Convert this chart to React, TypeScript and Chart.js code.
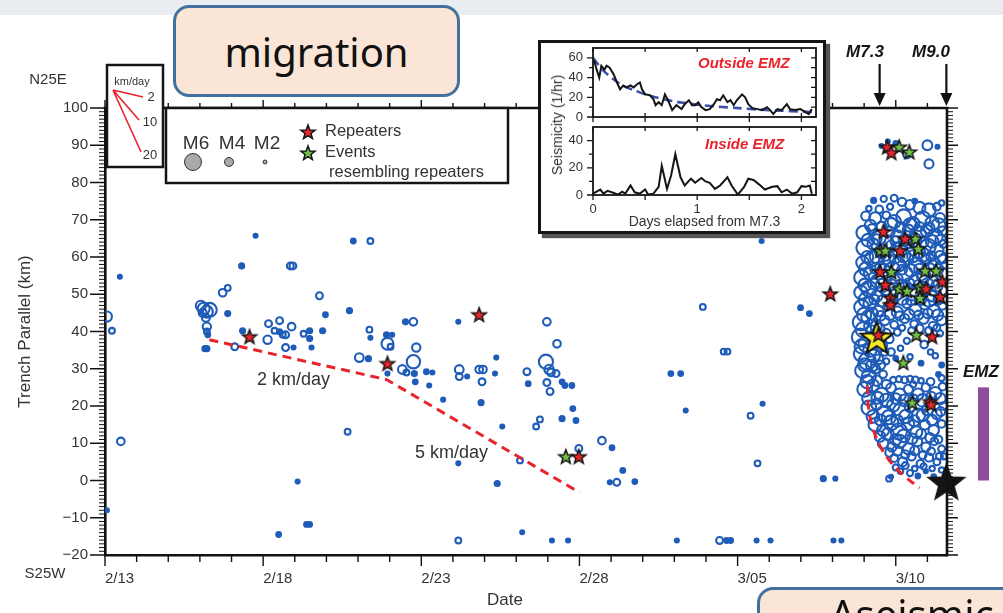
import React, { useEffect, useRef } from 'react';
import { Chart, registerables } from 'chart.js';

Chart.register(...registerables);

const W = 1003;
const H = 613;
const FONT = '"Liberation Sans", Arial, Helvetica, sans-serif';
const INK = '#333333';
const BLUE = '#1f5cb8';
const RED = '#e8232b';

// ---------- main panel: x = days since 2/13, y = km along trench ----------
const xMaxDay = 26.62;
const dateLabelDays = [0, 5, 10, 15, 20, 25];
const dateLabels = ['2/13', '2/18', '2/23', '2/28', '3/05', '3/10'];
const kmTicks = [-20, -10, 0, 10, 20, 30, 40, 50, 60, 70, 80, 90, 100];
const m73Day = 24.49;
const m90Day = 26.6;

// [day, km, magnitude]
const foreshockEvents: number[][] = [
  [0.06, 44.0, 3.7], [0.22, 40.2, 2.5], [0.47, 54.7, 2.0], [0.06, -8.0, 2.0], [0.5, 10.5, 3.0],
  [3.03, 46.9, 3.7], [3.12, 46.1, 4.2], [3.22, 45.3, 4.2], [3.31, 45.8, 4.8], [3.09, 45.0, 3.1], [3.19, 43.7, 3.1],
  [3.22, 41.3, 3.2], [3.22, 40.0, 2.5], [3.25, 39.1, 2.2], [3.16, 35.4, 2.3], [3.22, 35.4, 2.3],
  [3.72, 50.4, 3.0], [3.88, 51.7, 2.5], [3.88, 44.8, 2.3], [4.32, 57.6, 2.3], [4.76, 65.7, 2.0],
  [4.35, 40.2, 2.3], [4.1, 35.9, 2.8], [5.14, 37.8, 3.2], [5.17, 42.1, 2.8],
  [5.36, 40.2, 2.5], [5.52, 42.9, 2.8], [5.52, 39.9, 2.3], [5.62, 39.1, 2.5], [5.71, 39.1, 2.8],
  [5.86, 57.6, 2.8], [5.94, 57.6, 2.8], [5.9, 41.3, 3.0], [5.71, 35.7, 2.8], [5.96, 35.7, 2.0],
  [6.28, 39.4, 2.5], [6.47, 40.2, 2.3], [6.47, 38.1, 2.3], [6.53, 35.7, 2.0], [6.78, 49.6, 2.8],
  [6.88, 40.2, 2.3], [6.97, 44.5, 2.2], [7.73, 45.6, 2.3], [7.85, 64.3, 2.2], [8.39, 64.3, 2.5],
  [8.04, 33.0, 3.3], [8.33, 32.7, 2.3], [8.36, 40.5, 2.5], [8.39, 38.3, 2.0], [8.9, 39.1, 2.3],
  [9.08, 39.1, 2.0], [8.93, 36.7, 4.2], [9.03, 35.9, 2.5], [8.93, 28.7, 2.0], [9.5, 42.6, 2.3],
  [9.75, 42.6, 3.0], [9.4, 29.8, 3.3], [9.53, 29.0, 2.5], [9.75, 31.9, 4.6], [9.84, 35.7, 3.2],
  [9.78, 28.7, 2.3], [9.81, 26.5, 2.2], [10.16, 29.2, 2.2], [10.35, 29.0, 2.0], [10.25, 25.5, 2.0],
  [10.69, 21.7, 2.0], [11.17, 42.6, 2.0], [11.2, 29.8, 3.3], [11.2, 27.9, 2.8], [11.45, 27.9, 2.0],
  [11.83, 29.8, 3.0], [11.95, 29.8, 3.0], [11.92, 26.5, 2.8], [11.89, 20.9, 2.3], [12.37, 33.0, 2.0],
  [12.33, 28.7, 2.0], [7.67, 13.1, 2.5], [5.49, -14.5, 2.2], [6.09, -0.3, 2.0], [6.37, -11.8, 2.2],
  [6.47, -11.8, 2.2], [11.17, 4.6, 2.0], [11.17, -16.1, 2.5], [12.4, -0.8, 2.3], [12.56, 14.5, 2.0],
  [13.12, 5.4, 2.5], [13.19, -13.9, 2.0], [13.75, 16.4, 2.5], [13.63, 14.5, 2.5], [14.45, 16.6, 2.3],
  [14.79, 19.3, 2.2], [14.89, 16.1, 2.2], [14.13, -16.1, 2.0], [14.64, -16.1, 2.0], [14.98, 8.6, 2.8],
  [15.71, 10.7, 3.0], [16.03, 8.8, 2.2], [16.37, 2.7, 2.2], [15.96, -0.5, 2.0], [16.18, -0.5, 2.8],
  [16.75, -0.3, 2.2], [13.97, 42.6, 3.0], [14.29, 36.7, 3.0], [13.34, 29.2, 2.8], [13.38, 26.0, 2.2],
  [13.94, 31.9, 4.8], [14.04, 29.8, 3.5], [14.1, 29.0, 3.0], [14.26, 28.7, 2.8], [13.97, 26.3, 2.8],
  [14.07, 23.9, 2.8], [14.45, 26.5, 2.2], [14.54, 25.5, 2.2], [14.76, 25.5, 2.2], [17.89, 28.7, 2.2],
  [18.2, 28.7, 2.2], [18.9, 46.6, 2.5], [18.36, 18.8, 2.0], [18.08, -16.1, 2.0], [19.43, -16.1, 2.8],
  [19.65, -16.1, 2.2], [19.78, -16.1, 2.2], [19.56, 34.6, 2.5], [19.68, 34.6, 2.5], [20.6, -16.1, 2.0],
  [21.04, -16.1, 2.0], [20.41, 17.4, 2.5], [20.79, 20.6, 2.0], [20.76, 64.3, 2.0], [20.63, 4.6, 2.5],
  [21.99, 46.4, 2.2], [22.27, 44.8, 2.2], [22.71, 0.5, 2.3], [23.09, 0.5, 2.0], [23.03, -16.1, 2.0],
  [23.28, -16.1, 2.0], [24.79, 0.5, 2.5],
];

// events after the M7.3 (dense cluster)
const aftershockEvents: number[][] = [
  [24.55, 89.8, 2.0], [25.0, 90.5, 2.2], [25.35, 87.5, 3.0], [26.0, 90.0, 3.6], [26.32, 89.6, 2.0], [26.05, 85.0, 3.4], [24.75, 91.0, 2.0],
  [24.3, 75.2, 2.3], [24.62, 75.6, 2.6], [24.95, 75.8, 2.8], [25.2, 74.8, 3.2], [25.45, 74.0, 3.6], [25.75, 73.2, 4.2], [26.05, 72.6, 4.6], [26.3, 73.5, 3.0],
  [24.15, 73.0, 2.4], [24.48, 72.8, 3.0], [24.82, 73.5, 2.6], [25.6, 75.0, 2.2], [26.45, 74.5, 2.4],
  [24.05, 71.0, 3.4], [24.35, 70.4, 4.2], [24.7, 71.2, 3.0], [24.95, 69.5, 4.6], [25.25, 70.8, 5.0], [25.55, 69.0, 4.4], [25.85, 70.2, 5.2], [26.15, 69.0, 4.8], [26.4, 70.5, 3.6],
  [24.2, 68.5, 4.0], [24.55, 68.2, 3.6], [24.85, 68.8, 4.4], [25.15, 68.0, 3.8], [25.45, 68.6, 4.6], [25.75, 68.2, 3.4], [26.05, 67.8, 4.0], [26.35, 68.5, 4.8],
  [23.98, 66.5, 4.8], [24.25, 67.5, 3.6], [24.45, 65.2, 5.0], [24.8, 66.8, 3.8], [25.05, 65.5, 4.4], [25.4, 67.2, 4.0], [25.7, 66.0, 5.4], [25.98, 67.0, 4.2], [26.25, 65.5, 5.0], [26.48, 67.0, 3.4],
  [24.12, 64.5, 4.4], [24.4, 64.8, 3.6], [24.7, 64.0, 4.8], [25.0, 64.2, 3.8], [25.28, 64.5, 4.2], [25.58, 64.6, 4.8], [25.88, 64.0, 3.6], [26.15, 64.2, 4.4], [26.42, 64.6, 3.8],
  [24.0, 62.5, 5.2], [24.28, 63.5, 4.0], [24.55, 61.5, 4.6], [24.85, 63.2, 3.4], [25.12, 62.0, 5.0], [25.42, 63.8, 3.8], [25.75, 61.2, 4.0], [26.02, 62.8, 5.2], [26.3, 61.8, 4.6], [26.5, 63.5, 3.0],
  [24.1, 60.0, 4.2], [24.4, 60.2, 4.8], [24.68, 60.4, 3.8], [24.98, 60.0, 4.4], [25.25, 60.4, 4.6], [25.55, 60.2, 4.2], [25.85, 60.6, 4.8], [26.12, 60.2, 3.6], [26.4, 60.0, 4.2],
  [23.95, 58.5, 4.4], [24.25, 59.5, 5.0], [24.5, 57.5, 3.6], [24.8, 59.0, 4.2], [25.08, 58.0, 4.8], [25.38, 59.5, 4.0], [25.65, 57.8, 5.2], [25.95, 59.2, 3.8], [26.22, 58.0, 4.4], [26.48, 59.5, 3.4],
  [24.05, 56.8, 4.6], [24.35, 57.0, 3.8], [24.62, 56.5, 4.4], [24.9, 56.8, 4.8], [25.2, 56.6, 3.6], [25.48, 56.4, 4.4], [25.75, 56.8, 3.8], [26.05, 56.5, 4.8], [26.35, 56.8, 3.6],
  [23.92, 54.5, 5.0], [24.18, 55.5, 4.2], [24.42, 53.5, 4.6], [24.75, 55.0, 3.6], [25.02, 54.0, 4.4], [25.3, 55.5, 5.0], [25.58, 53.8, 3.8], [25.88, 55.0, 4.6], [26.18, 53.5, 4.0], [26.45, 55.5, 4.4],
  [24.02, 52.5, 4.4], [24.3, 52.8, 4.0], [24.58, 52.4, 4.6], [24.88, 52.6, 3.8], [25.15, 52.2, 4.4], [25.42, 52.8, 4.0], [25.72, 52.5, 3.6], [26.0, 52.6, 4.4], [26.3, 52.2, 4.0],
  [23.9, 50.5, 4.6], [24.15, 51.5, 5.2], [24.4, 49.5, 4.0], [24.7, 51.0, 3.4], [25.0, 49.8, 4.2], [25.28, 52.0, 3.6], [25.55, 50.2, 4.8], [25.85, 51.0, 4.0], [26.15, 49.5, 3.8], [26.45, 51.5, 4.4],
  [24.05, 48.5, 4.8], [24.32, 48.6, 3.6], [24.6, 48.2, 4.2], [24.9, 48.5, 3.8], [25.2, 48.8, 4.4], [25.48, 48.4, 3.6], [25.78, 48.6, 4.0], [26.05, 48.3, 4.4], [26.35, 48.6, 3.6],
  [23.92, 46.5, 5.0], [24.18, 47.5, 4.4], [24.45, 45.5, 3.8], [24.75, 46.8, 3.2], [25.05, 45.2, 4.0], [25.35, 47.5, 3.4], [25.62, 45.8, 4.2], [25.92, 47.2, 3.6], [26.2, 45.5, 4.4], [26.48, 47.0, 3.2],
  [24.0, 44.5, 4.8], [24.25, 44.8, 4.2], [24.52, 44.2, 3.6], [24.82, 44.6, 4.0], [25.12, 44.2, 3.4], [25.42, 44.6, 3.8], [25.72, 44.4, 3.4], [26.02, 44.8, 3.6], [26.32, 44.4, 4.0],
  [23.9, 42.5, 5.4], [24.12, 43.8, 4.6], [24.38, 41.5, 4.0], [24.65, 43.0, 3.6], [24.95, 41.8, 3.0], [25.28, 43.5, 3.4], [25.58, 42.0, 3.0], [25.88, 43.5, 3.8], [26.18, 41.5, 3.2], [26.45, 43.0, 3.6],
  [23.98, 40.5, 5.2], [24.2, 41.5, 4.4], [24.48, 40.8, 3.8], [24.7, 39.5, 3.4], [25.2, 41.0, 2.6], [25.5, 40.2, 2.8], [25.75, 40.8, 3.2], [26.05, 40.2, 3.0], [26.3, 41.0, 2.8],
  [23.88, 38.5, 5.6], [24.05, 36.5, 5.0], [24.25, 40.0, 4.2], [24.8, 38.0, 3.2], [25.05, 39.8, 2.8], [25.35, 37.5, 2.6], [25.9, 36.5, 3.0], [26.4, 39.5, 2.6], [24.55, 36.2, 4.0],
  [23.92, 36.0, 4.8], [24.18, 35.0, 4.6], [24.4, 37.5, 3.8], [24.65, 34.5, 3.0], [25.15, 35.5, 2.4], [26.1, 34.5, 2.4],
  [23.92, 34.0, 5.2], [24.1, 32.0, 5.6], [24.3, 33.5, 4.4], [24.52, 31.0, 3.4], [24.85, 34.5, 3.0], [25.45, 33.2, 2.4], [25.8, 31.5, 2.2], [26.25, 33.5, 2.4], [26.45, 31.0, 2.2],
  [24.02, 31.0, 4.6], [24.25, 30.8, 4.2], [24.45, 32.5, 3.6], [24.7, 32.0, 2.6], [25.0, 32.8, 2.2],
  [23.95, 29.5, 5.0], [24.15, 28.0, 4.8], [24.35, 30.0, 3.6], [24.6, 28.5, 3.0], [24.92, 27.0, 2.6], [25.1, 27.2, 2.6], [25.28, 27.0, 2.8], [25.45, 27.3, 2.6], [25.62, 27.0, 2.8], [25.8, 26.8, 2.4], [26.35, 28.5, 2.2],
  [24.1, 26.5, 4.6], [24.4, 26.8, 3.8], [24.7, 25.8, 3.4], [25.55, 25.8, 2.6], [26.1, 26.5, 3.0], [26.45, 27.5, 2.6],
  [24.02, 24.5, 5.0], [24.28, 25.5, 4.2], [24.55, 23.0, 4.8], [24.85, 24.8, 3.6], [25.12, 23.0, 4.4], [25.4, 24.5, 3.4], [25.7, 23.2, 4.0], [25.95, 25.0, 3.2], [26.25, 23.5, 4.2], [26.48, 25.2, 3.0],
  [24.15, 22.0, 4.6], [24.42, 22.2, 4.2], [24.7, 21.5, 4.6], [25.0, 22.0, 3.8], [25.28, 21.5, 4.2], [25.55, 21.8, 3.6], [25.85, 21.5, 4.4], [26.12, 22.5, 3.6], [26.4, 22.0, 4.0],
  [24.15, 19.5, 5.0], [24.4, 20.5, 4.0], [24.65, 18.0, 5.2], [24.92, 20.2, 4.4], [25.18, 18.5, 5.6], [25.45, 19.8, 3.8], [25.72, 17.5, 4.6], [26.0, 19.0, 4.0], [26.3, 17.8, 3.6], [26.5, 20.0, 3.0],
  [24.28, 17.2, 4.4], [24.52, 16.2, 4.0], [24.78, 17.0, 4.8], [25.05, 16.0, 4.2], [25.32, 17.2, 4.6], [25.58, 16.0, 4.0], [25.85, 17.5, 4.2], [26.15, 16.2, 3.8], [26.42, 18.5, 3.4],
  [24.35, 15.0, 4.6], [24.6, 13.5, 4.2], [24.85, 15.5, 5.0], [25.1, 13.2, 5.4], [25.38, 15.2, 4.4], [25.65, 13.0, 4.2], [25.92, 15.0, 3.6], [26.2, 13.5, 3.8], [26.45, 15.2, 3.0],
  [24.5, 11.8, 3.8], [24.75, 12.5, 4.2], [25.0, 11.0, 4.0], [25.25, 12.0, 4.4], [25.52, 11.2, 3.8], [25.8, 12.5, 3.6], [26.08, 11.5, 3.4], [26.35, 11.0, 3.0],
  [24.6, 10.0, 3.8], [24.88, 9.0, 3.4], [25.12, 10.5, 4.6], [25.4, 8.5, 4.0], [25.68, 10.5, 3.6], [25.95, 9.0, 3.4], [26.22, 10.5, 3.0], [26.45, 8.5, 2.8],
  [24.8, 7.5, 3.2], [25.05, 8.0, 3.6], [25.3, 7.0, 3.2], [25.6, 8.0, 3.4], [25.85, 6.8, 3.0], [26.12, 7.8, 3.0], [26.38, 6.5, 2.8],
  [24.95, 6.0, 3.0], [25.22, 5.0, 3.4], [25.5, 6.5, 3.2], [25.78, 4.5, 3.0], [26.05, 6.2, 3.2], [26.3, 5.0, 2.8], [26.52, 6.5, 2.6],
  [25.0, 3.5, 2.6], [25.3, 4.0, 2.8], [25.6, 3.2, 2.4], [25.88, 3.8, 2.6], [26.15, 3.2, 2.4],
  [25.15, 2.5, 2.4], [25.45, 2.0, 2.6], [25.7, 1.2, 2.2], [25.95, 2.5, 2.0], [26.2, 1.0, 2.2], [26.45, 2.8, 2.4], [24.85, 1.0, 2.0],
  [26.6, -0.5, 2.6],
];

// [day, km]
const repeaterEvents: number[][] = [
  [4.57, 38.6], [8.93, 31.4], [11.83, 44.5], [14.98, 6.4], [22.93, 50.1],
  [24.73, 89.5], [24.86, 88.0], [24.61, 66.8], [25.3, 64.9], [25.14, 61.7], [24.51, 56.0], [24.67, 52.5],
  [25.96, 51.5], [26.4, 49.3], [24.83, 49.0], [24.83, 47.2], [26.47, 53.4], [24.45, 39.1], [26.15, 38.6],
  [26.09, 21.2], [26.12, 20.4],
];
const resemblingEvents: number[][] = [
  [14.57, 6.4],
  [25.11, 89.5], [25.43, 88.2], [25.62, 64.9], [24.51, 61.7], [24.67, 61.7], [25.71, 62.2], [24.86, 56.0],
  [25.93, 56.3], [26.28, 56.3], [25.11, 51.5], [25.36, 50.9], [25.77, 52.0], [25.77, 49.0], [25.65, 39.1],
  [25.24, 31.6], [25.52, 20.9],
];
const m73Event = [24.4, 38.3];
const m90Event = [26.6, -0.5];

const migrationFront: number[][] = [[3.3, 37.8], [8.9, 27.1], [15.0, -3.2]];
const emzFront: number[][] = [[24.1, 25.5], [24.14, 19.5], [24.28, 14.0], [24.52, 9.0], [24.88, 4.5], [25.3, 1.0], [25.75, -2.0]];

// ---------- inset: seismicity rate vs days after M7.3 ----------
const outsideDays = [0.01, 0.035, 0.06, 0.08, 0.11, 0.13, 0.16, 0.2, 0.23, 0.26, 0.29, 0.32, 0.36, 0.39, 0.42, 0.45, 0.47, 0.5, 0.55, 0.58, 0.6, 0.63, 0.66, 0.69, 0.72, 0.76, 0.8, 0.85, 0.88, 0.92, 0.95, 0.98, 1.01, 1.04, 1.08, 1.12, 1.16, 1.19, 1.22, 1.25, 1.29, 1.32, 1.35, 1.38, 1.43, 1.46, 1.49, 1.53, 1.58, 1.62, 1.67, 1.7, 1.73, 1.77, 1.81, 1.86, 1.89, 1.94, 1.99, 2.04, 2.07, 2.1];
const outsideRate = [58, 48, 40, 52, 48, 52, 50, 43, 35, 28, 32, 30, 32, 30, 33, 35, 28, 23, 22, 18, 12, 15, 12, 23, 17, 7, 12, 8, 13, 17, 12, 12, 15, 10, 7, 8, 13, 18, 17, 22, 15, 17, 12, 17, 23, 20, 13, 9, 8, 7, 10, 7, 3, 8, 7, 13, 8, 7, 8, 5, 3, 8];
const fitDays = [0, 0.1, 0.2, 0.3, 0.4, 0.5, 0.6, 0.7, 0.8, 0.9, 1.0, 1.2, 1.4, 1.6, 1.8, 2.0, 2.12];
const fitRate = [60, 47, 38, 31, 27, 23, 20, 17.5, 15.5, 14, 12.5, 10.5, 9, 7.5, 6.5, 5.5, 5];
const insideDays = [0.0, 0.07, 0.1, 0.14, 0.2, 0.24, 0.28, 0.31, 0.36, 0.4, 0.45, 0.5, 0.53, 0.58, 0.63, 0.66, 0.71, 0.75, 0.79, 0.84, 0.88, 0.94, 0.98, 1.04, 1.08, 1.12, 1.17, 1.22, 1.29, 1.33, 1.39, 1.45, 1.49, 1.54, 1.59, 1.65, 1.72, 1.77, 1.81, 1.86, 1.91, 1.96, 2.0, 2.04, 2.08, 2.1];
const insideRate = [1, 4, 1, 3, 1.5, 0.3, 2.5, 1, 7, 2, 1, 4, 0.3, 1, 6, 21.5, 4.5, 14.5, 30, 13, 7, 12, 9, 12.5, 10, 9, 4.5, 7, 13, 7, 0.3, 6, 12, 11, 8, 4, 6, 6.5, 2, 4, 1, 2, 6.5, 6, 7, 1];
const insetXMax = 2.14;
const outsideTicks = [0, 20, 40, 60];
const insideTicks = [0, 20, 40];
const insetDayTicks = [0, 1, 2];

function magRadius(m: number) {
  return 2 + (m - 2) * 1.8;
}

function starCanvas(R: number, fill: string, lw: number, stroke = '#151515') {
  const size = Math.ceil(2 * R + 2 * lw + 4);
  const c = document.createElement('canvas');
  c.width = size;
  c.height = size;
  const g = c.getContext('2d')!;
  const cx = size / 2;
  const cy = size / 2 + R * 0.06;
  g.beginPath();
  for (let i = 0; i < 10; i++) {
    const r = i % 2 === 0 ? R : R * 0.42;
    const a = -Math.PI / 2 + (i * Math.PI) / 5;
    const px = cx + r * Math.cos(a);
    const py = cy + r * Math.sin(a);
    if (i === 0) g.moveTo(px, py);
    else g.lineTo(px, py);
  }
  g.closePath();
  g.fillStyle = fill;
  g.fill();
  g.lineWidth = lw;
  g.lineJoin = 'miter';
  g.strokeStyle = stroke;
  g.stroke();
  return c;
}

function arrowDown(ctx: CanvasRenderingContext2D, x: number, y0: number, y1: number) {
  ctx.beginPath();
  ctx.moveTo(x, y0);
  ctx.lineTo(x, y1 - 10);
  ctx.lineWidth = 2.2;
  ctx.strokeStyle = '#111';
  ctx.stroke();
  ctx.beginPath();
  ctx.moveTo(x - 6, y1 - 13);
  ctx.lineTo(x + 6, y1 - 13);
  ctx.lineTo(x, y1);
  ctx.closePath();
  ctx.fillStyle = '#111';
  ctx.fill();
}

export default function App() {
  const mainRef = useRef<HTMLCanvasElement>(null);
  const topRef = useRef<HTMLCanvasElement>(null);
  const botRef = useRef<HTMLCanvasElement>(null);

  useEffect(() => {
    const charts: Chart[] = [];
    const redStar = starCanvas(7.5, '#e8262c', 1.5);
    const greenStar = starCanvas(7.5, '#72bf4a', 1.5);
    const yellowStar = starCanvas(17, '#f4ec2a', 2);
    const blackStar = starCanvas(19, '#151515', 1.5);

    const mainDecor = {
      id: 'mainDecor',
      afterDraw(chart: any) {
        const ctx: CanvasRenderingContext2D = chart.ctx;
        const xs = chart.scales.x;
        const ys = chart.scales.y;
        const { left, right, top, bottom } = chart.chartArea;
        ctx.save();
        ctx.strokeStyle = '#111';
        ctx.lineWidth = 2.6;
        ctx.beginPath();
        ctx.moveTo(left - 1.3, top);
        ctx.lineTo(right + 1.3, top);
        ctx.moveTo(right, top);
        ctx.lineTo(right, bottom + 1.3);
        ctx.stroke();
        for (let v = -20; v <= 100; v++) {
          const y = ys.getPixelForValue(v);
          const major = v % 10 === 0;
          ctx.lineWidth = major ? 1.6 : 1;
          ctx.beginPath();
          ctx.moveTo(left - (major ? 15 : 6), y);
          ctx.lineTo(left, y);
          ctx.moveTo(right, y);
          ctx.lineTo(right + (major ? 11 : 6), y);
          ctx.stroke();
        }
        for (let d = 0; d <= 26; d++) {
          const x = xs.getPixelForValue(d);
          const major = d % 5 === 0;
          ctx.lineWidth = 1.4;
          ctx.beginPath();
          ctx.moveTo(x, bottom);
          ctx.lineTo(x, bottom + (major ? 11 : 7));
          ctx.moveTo(x, top);
          ctx.lineTo(x, top - (major ? 8 : 5));
          ctx.stroke();
        }
        ctx.fillStyle = INK;
        ctx.textAlign = 'center';
        ctx.textBaseline = 'middle';
        ctx.font = `15px ${FONT}`;
        ctx.fillText('N25E', 48, 80);
        ctx.fillText('S25W', 45, 574);
        ctx.font = `17px ${FONT}`;
        ctx.fillText('Date', 505, 600);
        ctx.font = `18px ${FONT}`;
        ctx.textAlign = 'left';
        ctx.fillText('2 km/day', 257, 380);
        ctx.fillText('5 km/day', 415, 453);
        ctx.font = `bold italic 17px ${FONT}`;
        ctx.textAlign = 'center';
        ctx.fillStyle = '#151515';
        ctx.fillText('M7.3', 865, 52);
        ctx.fillText('M9.0', 931, 52);
        arrowDown(ctx, xs.getPixelForValue(m73Day), 64, top - 2);
        arrowDown(ctx, xs.getPixelForValue(m90Day), 64, top - 2);
        ctx.textAlign = 'left';
        ctx.fillStyle = '#151515';
        ctx.fillText('EMZ', 963, 372);
        ctx.fillStyle = '#8f4c9f';
        const yb0 = ys.getPixelForValue(25);
        const yb1 = ys.getPixelForValue(0);
        ctx.fillRect(978, yb0, 11, yb1 - yb0);
        // km/day legend
        ctx.fillStyle = '#fff';
        ctx.fillRect(107, 65, 56, 102);
        ctx.lineWidth = 2.5;
        ctx.strokeStyle = '#151515';
        ctx.strokeRect(107, 65, 56, 102);
        ctx.strokeStyle = RED;
        ctx.lineWidth = 1.6;
        ctx.beginPath();
        ctx.moveTo(113, 90); ctx.lineTo(143, 97);
        ctx.moveTo(113, 90); ctx.lineTo(139, 120);
        ctx.moveTo(113, 90); ctx.lineTo(141, 152);
        ctx.stroke();
        ctx.fillStyle = INK;
        ctx.textAlign = 'center';
        ctx.font = `11px ${FONT}`;
        ctx.fillText('km/day', 132, 82);
        ctx.font = `13px ${FONT}`;
        ctx.fillText('2', 151, 97);
        ctx.fillText('10', 150, 122);
        ctx.fillText('20', 150, 155);
        // magnitude / star legend
        ctx.fillStyle = '#fff';
        ctx.fillRect(166, 108, 342, 75);
        ctx.lineWidth = 2.5;
        ctx.strokeStyle = '#151515';
        ctx.strokeRect(166, 108, 342, 75);
        ctx.fillStyle = INK;
        ctx.font = `19px ${FONT}`;
        ctx.fillText('M6', 196, 144);
        ctx.fillText('M4', 232, 144);
        ctx.fillText('M2', 267, 144);
        const legendCircles: number[][] = [[193, 8.5], [229, 4.5], [265, 2]];
        for (const [cx, r] of legendCircles) {
          ctx.beginPath();
          ctx.arc(cx, 162, r, 0, Math.PI * 2);
          ctx.fillStyle = '#a9a9a9';
          ctx.fill();
          ctx.lineWidth = 1;
          ctx.strokeStyle = '#333';
          ctx.stroke();
        }
        ctx.drawImage(redStar, 308 - redStar.width / 2, 132 - redStar.height / 2);
        ctx.drawImage(greenStar, 308 - greenStar.width / 2, 153 - greenStar.height / 2);
        ctx.fillStyle = INK;
        ctx.textAlign = 'left';
        ctx.font = `16.5px ${FONT}`;
        ctx.fillText('Repeaters', 325, 131);
        ctx.fillText('Events', 325, 152);
        ctx.fillText('resembling repeaters', 329, 172);
        ctx.restore();
      },
    };

    const toPts = (arr: number[][]) => arr.map(([x, y, m]) => ({ x, y, m }));

    const main = new Chart(mainRef.current!, {
      type: 'scatter',
      data: {
        datasets: [
          { data: toPts(repeaterEvents), pointStyle: redStar as any, pointRadius: 7, order: 0, clip: false as any },
          { data: toPts(resemblingEvents), pointStyle: greenStar as any, pointRadius: 7, order: 1, clip: false as any },
          { data: [{ x: m73Event[0], y: m73Event[1] }], pointStyle: yellowStar as any, pointRadius: 17, order: 2, clip: false as any },
          { data: [{ x: m90Event[0], y: m90Event[1] }], pointStyle: blackStar as any, pointRadius: 19, order: 3, clip: false as any },
          {
            data: toPts(migrationFront),
            showLine: true,
            borderColor: RED,
            borderWidth: 3,
            borderDash: [9, 6],
            pointRadius: 0,
            order: 4,
          },
          {
            data: toPts(emzFront),
            showLine: true,
            borderColor: RED,
            borderWidth: 3,
            borderDash: [9, 6],
            pointRadius: 0,
            tension: 0.4,
            order: 5,
          },
          {
            data: toPts(foreshockEvents.concat(aftershockEvents)),
            pointStyle: 'circle',
            pointRadius: (c: any) => magRadius(c.raw.m),
            backgroundColor: (c: any) => (c.raw.m <= 2.3 ? BLUE : 'rgba(0,0,0,0)'),
            borderColor: BLUE,
            borderWidth: 2.1,
            order: 6,
          },
        ] as any,
      },
      options: {
        animation: false,
        responsive: false,
        devicePixelRatio: 1,
        events: [],
        layout: { padding: { left: 0, right: 56, top: 108, bottom: 0 } },
        plugins: { legend: { display: false }, tooltip: { enabled: false } },
        scales: {
          x: {
            type: 'linear',
            min: 0,
            max: xMaxDay,
            grid: { display: false, drawTicks: false },
            border: { display: true, color: '#111', width: 2.6 },
            afterBuildTicks: (s: any) => {
              s.ticks = dateLabelDays.map((v) => ({ value: v }));
            },
            ticks: {
              autoSkip: false,
              maxRotation: 0,
              align: 'start',
              padding: 15,
              color: INK,
              font: { family: FONT, size: 15 },
              callback: (v: any) => {
                const i = dateLabelDays.indexOf(Number(v));
                return i >= 0 ? dateLabels[i] : '';
              },
            },
            afterFit: (s: any) => {
              s.height = 58;
            },
          },
          y: {
            type: 'linear',
            min: -20,
            max: 100,
            grid: { display: false, drawTicks: false },
            border: { display: true, color: '#111', width: 2.6 },
            afterBuildTicks: (s: any) => {
              s.ticks = kmTicks.map((v) => ({ value: v }));
            },
            ticks: {
              padding: 17,
              color: INK,
              font: { family: FONT, size: 15 },
              callback: (v: any) => (Number(v) < 0 ? `\u2212${-Number(v)}` : `${v}`),
            },
            title: {
              display: true,
              text: 'Trench Parallel (km)',
              color: INK,
              font: { family: FONT, size: 17 },
              padding: { top: 15, bottom: 0 },
            },
            afterFit: (s: any) => {
              s.width = 105;
            },
          },
        },
      } as any,
      plugins: [mainDecor],
    });
    charts.push(main);

    const insetFrame = (yAll: number[], bothBottom: boolean) => ({
      id: 'insetFrame',
      afterDraw(chart: any) {
        const ctx: CanvasRenderingContext2D = chart.ctx;
        const { left, right, top, bottom } = chart.chartArea;
        const xs = chart.scales.x;
        const ys = chart.scales.y;
        ctx.save();
        ctx.strokeStyle = '#151515';
        ctx.lineWidth = 1.8;
        ctx.strokeRect(left, top, right - left, bottom - top);
        ctx.lineWidth = 1.3;
        ctx.beginPath();
        for (const v of yAll) {
          const y = ys.getPixelForValue(v);
          const major = v % 20 === 0;
          ctx.moveTo(left - (major ? 6 : 4), y);
          ctx.lineTo(left, y);
          ctx.moveTo(right, y);
          ctx.lineTo(right - 5, y);
        }
        for (const d of [0, 0.5, 1, 1.5, 2]) {
          const x = xs.getPixelForValue(d);
          ctx.moveTo(x, bottom - (bothBottom ? 4 : 0));
          ctx.lineTo(x, bottom + 5);
          ctx.moveTo(x, top);
          ctx.lineTo(x, top + 4);
        }
        ctx.stroke();
        ctx.restore();
      },
    });

    const insetYTicks = {
      color: INK,
      font: { family: FONT, size: 13, lineHeight: 1 },
      padding: 0,
    };
    const insetYGrid = { display: false, drawTicks: true, tickLength: 10 };

    const top = new Chart(topRef.current!, {
      type: 'scatter',
      data: {
        datasets: [
          {
            data: outsideDays.map((x, i) => ({ x, y: outsideRate[i] })),
            showLine: true,
            borderColor: '#151515',
            borderWidth: 2,
            pointRadius: 0,
            order: 0,
          },
          {
            data: fitDays.map((x, i) => ({ x, y: fitRate[i] })),
            showLine: true,
            borderColor: '#3d4fa8',
            borderWidth: 2.6,
            borderDash: [9, 5],
            pointRadius: 0,
            tension: 0.3,
            order: 1,
          },
        ] as any,
      },
      options: {
        animation: false,
        responsive: false,
        devicePixelRatio: 1,
        events: [],
        layout: { padding: { left: 0, right: 4, top: 8, bottom: 0 } },
        plugins: { legend: { display: false }, tooltip: { enabled: false } },
        scales: {
          x: {
            type: 'linear',
            min: 0,
            max: insetXMax,
            grid: { display: false, drawTicks: false },
            border: { display: false },
            ticks: { display: false },
            afterFit: (s: any) => {
              s.height = 7;
            },
          },
          y: {
            type: 'linear',
            min: 0,
            max: 70,
            grid: insetYGrid,
            border: { display: false },
            afterBuildTicks: (s: any) => {
              s.ticks = outsideTicks.map((v) => ({ value: v }));
            },
            ticks: insetYTicks,
            afterFit: (s: any) => {
              s.width = 53;
            },
          },
        },
      } as any,
      plugins: [insetFrame([0, 10, 20, 30, 40, 50, 60], true)],
    });
    charts.push(top);

    const bot = new Chart(botRef.current!, {
      type: 'scatter',
      data: {
        datasets: [
          {
            data: insideDays.map((x, i) => ({ x, y: insideRate[i] })),
            showLine: true,
            borderColor: '#151515',
            borderWidth: 2,
            pointRadius: 0,
          },
        ] as any,
      },
      options: {
        animation: false,
        responsive: false,
        devicePixelRatio: 1,
        events: [],
        layout: { padding: { left: 0, right: 4, top: 9, bottom: 0 } },
        plugins: { legend: { display: false }, tooltip: { enabled: false } },
        scales: {
          x: {
            type: 'linear',
            min: 0,
            max: insetXMax,
            grid: { display: false, drawTicks: false },
            border: { display: false },
            afterBuildTicks: (s: any) => {
              s.ticks = insetDayTicks.map((v) => ({ value: v }));
            },
            ticks: { color: INK, font: { family: FONT, size: 13 }, padding: 7, maxRotation: 0 },
            title: {
              display: true,
              text: 'Days elapsed from M7.3',
              color: INK,
              font: { family: FONT, size: 14 },
              padding: { top: 0, bottom: 3 },
            },
            afterFit: (s: any) => {
              s.height = 39;
            },
          },
          y: {
            type: 'linear',
            min: 0,
            max: 50,
            grid: insetYGrid,
            border: { display: false },
            afterBuildTicks: (s: any) => {
              s.ticks = insideTicks.map((v) => ({ value: v }));
            },
            ticks: insetYTicks,
            afterFit: (s: any) => {
              s.width = 53;
            },
          },
        },
      } as any,
      plugins: [insetFrame([0, 10, 20, 30, 40], false)],
    });
    charts.push(bot);

    return () => {
      charts.forEach((c) => c.destroy());
    };
  }, []);

  const boxStyle: React.CSSProperties = {
    position: 'absolute',
    boxSizing: 'border-box',
    border: '3px solid #41719c',
    borderRadius: 16,
    background: '#fbe5d6',
  };

  return (
    <div
      style={{
        position: 'fixed',
        left: 0,
        top: 0,
        width: W,
        height: H,
        overflow: 'hidden',
        background: '#ffffff',
      }}
    >
      <div style={{ position: 'absolute', left: 0, top: 0, width: W, height: 15, background: '#e9edf2' }} />
      <canvas ref={mainRef} width={W} height={H} style={{ position: 'absolute', left: 0, top: 0 }} />
      <div
        style={{
          position: 'absolute',
          left: 538,
          top: 40,
          width: 288,
          height: 194,
          boxSizing: 'border-box',
          border: '3px solid #151515',
          background: '#fff',
          boxShadow: '4px 4px 1px #555',
        }}
      />
      <canvas ref={topRef} width={280} height={84} style={{ position: 'absolute', left: 540, top: 40 }} />
      <canvas ref={botRef} width={280} height={116} style={{ position: 'absolute', left: 540, top: 118 }} />
      <div
        style={{
          position: 'absolute',
          left: 557,
          top: 125,
          transform: 'translate(-50%, -50%) rotate(-90deg)',
          whiteSpace: 'nowrap',
          font: `14px ${FONT}`,
          color: INK,
        }}
      >
        Seismicity (1/hr)
      </div>
      <div
        style={{
          position: 'absolute',
          left: 698,
          top: 55,
          font: `bold italic 15px ${FONT}`,
          lineHeight: '16px',
          color: RED,
          whiteSpace: 'nowrap',
        }}
      >
        Outside EMZ
      </div>
      <div
        style={{
          position: 'absolute',
          left: 705,
          top: 136,
          font: `bold italic 15px ${FONT}`,
          lineHeight: '16px',
          color: RED,
          whiteSpace: 'nowrap',
        }}
      >
        Inside EMZ
      </div>
      <div
        style={{
          ...boxStyle,
          left: 173,
          top: 5,
          width: 287,
          height: 92,
          display: 'flex',
          alignItems: 'center',
          justifyContent: 'center',
          font: '40px "Noto Sans", sans-serif',
          color: '#111',
        }}
      >
        migration
      </div>
      <div style={{ ...boxStyle, left: 757, top: 587, width: 300, height: 90 }} />
      <div
        style={{
          position: 'absolute',
          left: 830,
          top: 594,
          font: '40px "Noto Sans", sans-serif',
          lineHeight: '40px',
          color: '#111',
          whiteSpace: 'nowrap',
        }}
      >
        Aseismic
      </div>
    </div>
  );
}
